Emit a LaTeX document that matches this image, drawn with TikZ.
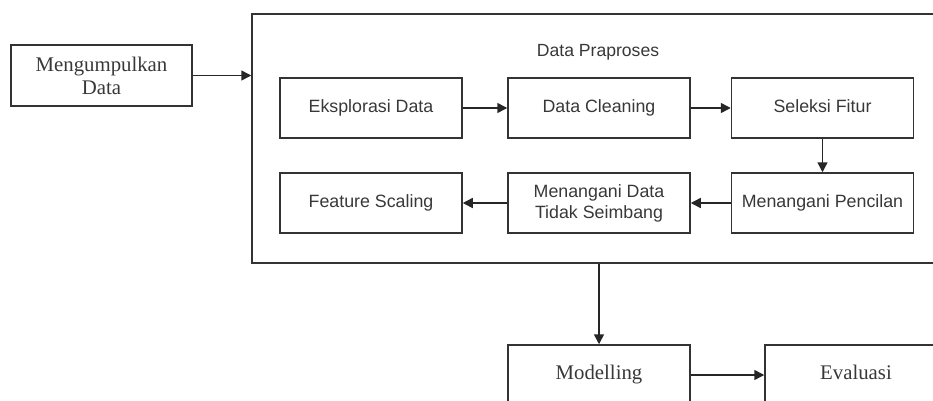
\documentclass[tikz,border=0pt]{standalone}
\usepackage{fontspec}
\setmainfont{Liberation Serif}
\setsansfont{Liberation Sans}
\usetikzlibrary{arrows.meta}

\begin{document}
\begin{tikzpicture}[x=1pt, y=-1pt,
        stepbox/.style={draw=black!80, line width=1.5pt, minimum width=182pt, minimum height=60pt,
            font=\sffamily\fontsize{17.8}{21}\selectfont, text=black!78, align=center, inner sep=0pt},
        outerbox/.style={draw=black!80, line width=1.5pt, minimum width=181pt, minimum height=61pt,
            font=\fontsize{20.8}{23}\selectfont, text=black!78, align=center, inner sep=0pt},
        oneline/.style={text height=12.8pt, text depth=3.8pt},
        flow/.style={-{Triangle[length=10pt,width=10pt]}, line width=1.5pt, draw=black!85}]
        % Page frame (the picture is cut at its right and bottom edges)
        \useasboundingbox (0,0) rectangle (933,400);
        \clip (0,0) rectangle (933,400);

        % Container
        \node[draw=black!80, line width=1.5pt, minimum width=708pt, minimum height=249pt, inner sep=0pt]
            (prep) at (606,138.5) {};
        \node[font=\sffamily\fontsize{17.6}{20}\selectfont, text=black!78] (praproses) at (598,52) {Data Praproses};

        % Outside steps
        \node[outerbox] (kumpul) at (101.5,75.5) {Mengumpulkan\\Data};
        \node[outerbox, minimum width=182pt, minimum height=60pt, text height=13.8pt, text depth=4.5pt]
            (model) at (599,375) {Modelling};
        \node[outerbox, minimum width=182pt, minimum height=60pt, text height=13.8pt, text depth=4.5pt]
            (eval) at (856,375) {Evaluasi};

        % Preprocessing steps
        \node[stepbox, oneline] (eksplor) at (371,108) {Eksplorasi Data};
        \node[stepbox, oneline] (clean) at (599,108) {Data Cleaning};
        \node[stepbox, oneline] (seleksi) at (822.5,108) {Seleksi Fitur};
        \node[stepbox, oneline] (pencilan) at (822.5,203) {Menangani Pencilan};
        \node[stepbox] (seimbang) at (599,203) {Menangani Data\\Tidak Seimbang};
        \node[stepbox, oneline] (scaling) at (371,203) {Feature Scaling};

        % Flow
        \draw[flow] (kumpul) -- (kumpul -| prep.west);
        \draw[flow] (eksplor) -- (clean);
        \draw[flow] (clean) -- (seleksi);
        \draw[flow] (seleksi) -- (pencilan);
        \draw[flow] (pencilan) -- (seimbang);
        \draw[flow] (seimbang) -- (scaling);
        \draw[flow] (prep.south -| model.north) -- (model);
        \draw[flow] (model) -- (eval);
    \end{tikzpicture}
\end{document}
